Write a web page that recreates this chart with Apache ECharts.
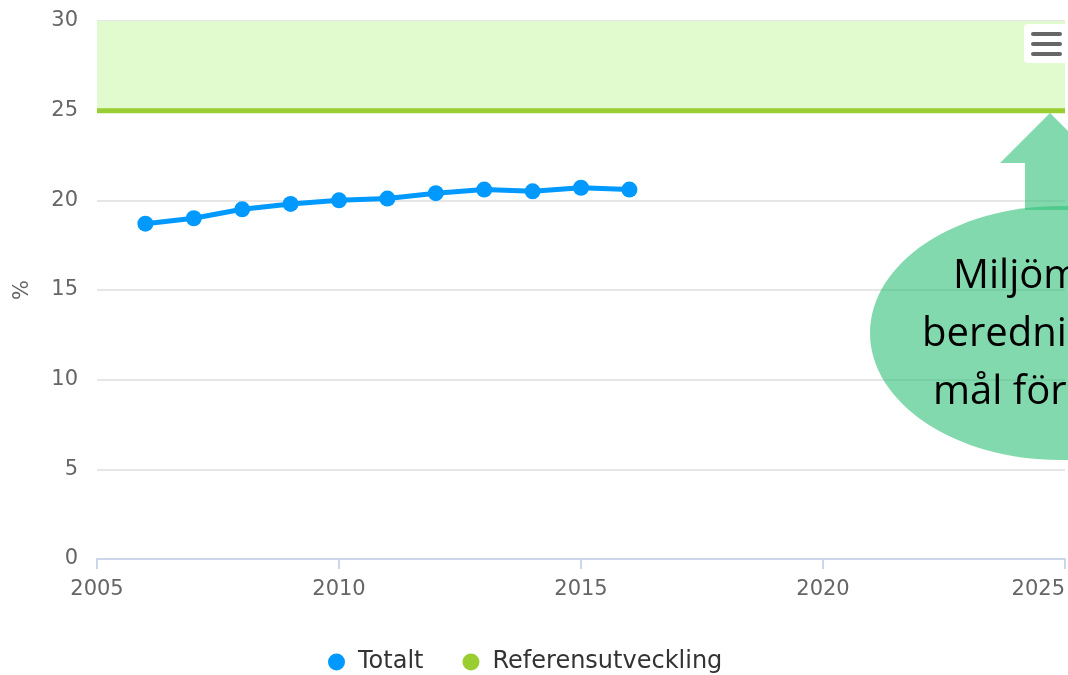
<!DOCTYPE html>
<html>
<head>
<meta charset="utf-8">
<style>
  html, body { margin: 0; padding: 0; background: #fff; }
  #main { width: 1068px; height: 675px; }
</style>
<script src="https://cdn.jsdelivr.net/npm/echarts@6/dist/echarts.min.js"></script>
</head>
<body>
<div id="main"></div>
<script>
var myChart = echarts.init(document.getElementById('main'));

// data
let years = [2006, 2007, 2008, 2009, 2010, 2011, 2012, 2013, 2014, 2015, 2016]
let totalt = [18.7, 19.0, 19.5, 19.8, 20.0, 20.1, 20.4, 20.6, 20.5, 20.7, 20.6]
let refYears = [2005, 2025]
let refLevel = 25
let bandTop = 30
let noteLines = ['Miljömåls-', 'beredningens', 'mål för 2030']

let axisFont = 'DejaVu Sans'
let green = 'rgba(46, 191, 120, 0.6)'

let option = {
    animation: false,
    grid: {
        left: 97,
        right: 2,
        top: 21,
        bottom: 116
    },
    legend: {
        top: 645,
        left: 323,
        icon: 'circle',
        itemWidth: 17,
        itemHeight: 17,
        itemGap: 39,
        textStyle: {
            fontFamily: axisFont,
            fontSize: 24,
            color: '#333',
            padding: [0, 0, 0, 8]
        },
        data: ['Totalt', 'Referensutveckling']
    },
    xAxis: {
        type: 'value',
        min: 2005,
        max: 2025,
        interval: 5,
        axisLine: { lineStyle: { color: '#ccd6eb', width: 2 } },
        axisTick: { show: true, length: 10, lineStyle: { color: '#ccd6eb', width: 2 } },
        axisLabel: {
            margin: 20,
            fontFamily: axisFont,
            fontSize: 21,
            color: '#666',
            alignMaxLabel: 'right',
            formatter: v => String(v)
        },
        splitLine: { show: false }
    },
    yAxis: {
        type: 'value',
        min: 0,
        max: 30,
        interval: 5,
        name: '%',
        nameLocation: 'middle',
        nameGap: 64,
        nameRotate: 90,
        nameTextStyle: { fontFamily: axisFont, fontSize: 21, color: '#666' },
        axisLine: { show: false },
        axisTick: { show: false },
        axisLabel: {
            margin: 19,
            fontFamily: axisFont,
            fontSize: 21,
            color: '#666',
            padding: [0, 0, 6, 0]
        },
        splitLine: { lineStyle: { color: '#e6e6e6', width: 2 } }
    },
    series: [
        {
            name: 'Referensutveckling',
            type: 'line',
            data: refYears.map(y => [y, refLevel]),
            showSymbol: false,
            color: '#9acd32',
            lineStyle: { width: 5, color: '#9acd32' },
            z: 3,
            markArea: {
                silent: true,
                itemStyle: { color: '#e1fbcf' },
                data: [[{ yAxis: refLevel }, { yAxis: bandTop }]]
            }
        },
        {
            name: 'Totalt',
            type: 'line',
            data: years.map((y, i) => [y, totalt[i]]),
            symbol: 'circle',
            symbolSize: 16,
            color: '#0099ff',
            lineStyle: { width: 5, color: '#0099ff' },
            z: 4
        }
    ],
    graphic: [
        // export menu button
        {
            type: 'rect',
            shape: { x: 1024, y: 24, width: 44, height: 39, r: 4 },
            style: { fill: '#fff' },
            z: 20
        },
        {
            type: 'line',
            shape: { x1: 1033, y1: 34, x2: 1060, y2: 34 },
            style: { stroke: '#666', lineWidth: 4, lineCap: 'round' },
            z: 21
        },
        {
            type: 'line',
            shape: { x1: 1033, y1: 44, x2: 1060, y2: 44 },
            style: { stroke: '#666', lineWidth: 4, lineCap: 'round' },
            z: 21
        },
        {
            type: 'line',
            shape: { x1: 1033, y1: 54, x2: 1060, y2: 54 },
            style: { stroke: '#666', lineWidth: 4, lineCap: 'round' },
            z: 21
        },
        // annotation arrow + bubble
        {
            type: 'polygon',
            shape: {
                points: [[1050, 113], [1000, 163], [1025, 163], [1025, 210], [1075, 210], [1075, 163], [1100, 163]]
            },
            style: { fill: green },
            z: 10
        },
        {
            type: 'ellipse',
            shape: { cx: 1060, cy: 333, rx: 190, ry: 127 },
            style: { fill: green },
            z: 10
        },
        {
            type: 'text',
            x: 953,
            y: 297,
            style: { text: noteLines[0], font: '40px "Open Sans"', fill: '#000', verticalAlign: 'bottom' },
            z: 11
        },
        {
            type: 'text',
            x: 922,
            y: 355,
            style: { text: noteLines[1], font: '40px "Open Sans"', fill: '#000', verticalAlign: 'bottom' },
            z: 11
        },
        {
            type: 'text',
            x: 933,
            y: 413,
            style: { text: noteLines[2], font: '40px "Open Sans"', fill: '#000', verticalAlign: 'bottom' },
            z: 11
        }
    ]
};

myChart.setOption(option);
</script>
</body>
</html>
